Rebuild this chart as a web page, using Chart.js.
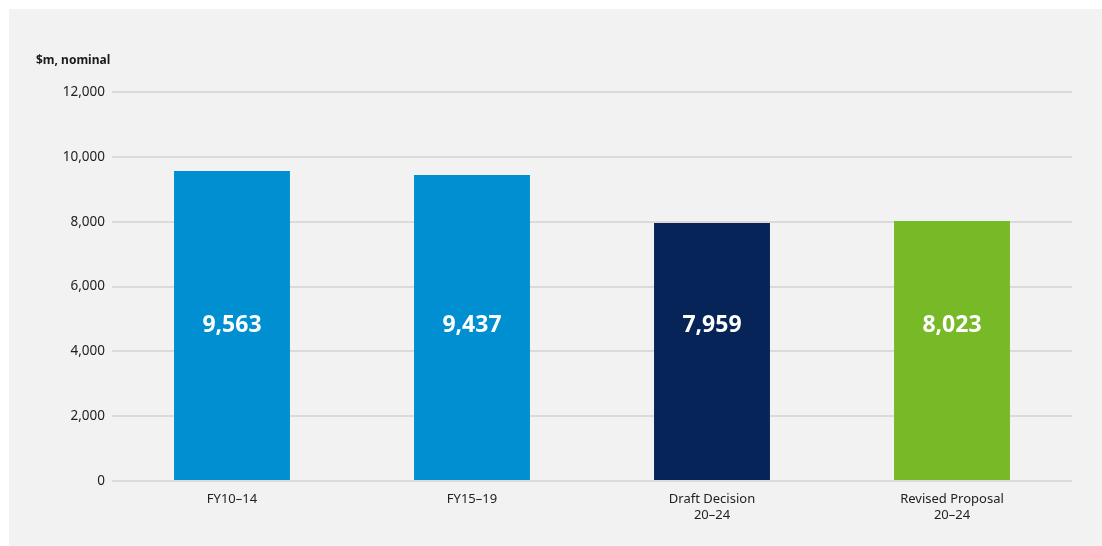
<!DOCTYPE html>
<html>
<head>
<meta charset="utf-8">
<script src="https://cdn.jsdelivr.net/npm/chart.js@4/dist/chart.umd.min.js"></script>
<style>
  html, body { margin: 0; padding: 0; background: #ffffff; }
  #wrap { width: 1102px; height: 546px; position: relative; }
</style>
</head>
<body>
<div id="wrap"><canvas id="capexChart" width="1102" height="546"></canvas></div>
<script>
// capex totals by period, $m nominal
const periods = [['FY10\u201314'], ['FY15\u201319'], ['Draft Decision', '20\u201324'], ['Revised Proposal', '20\u201324']];
const totals = [9563, 9437, 7959, 8023];
const barColours = ['#008fd0', '#008fd0', '#062457', '#78b928'];
const yTicks = [0, 2000, 4000, 6000, 8000, 10000, 12000];

const FONT = '"Noto Sans", sans-serif';

// grey panel behind the chart, axis unit caption and the value labels inside bars
const panelPlugin = {
    id: 'panel',
    beforeDraw(chart) {
        const c = chart.ctx;
        c.save();
        c.fillStyle = '#f2f2f2';
        c.fillRect(9, 9, chart.width - 9, chart.height - 9);
        c.fillStyle = '#1a1a1a';
        c.font = 'bold 12px ' + FONT;
        c.textBaseline = 'middle';
        c.fillText('$m, nominal', 36, 61);
        c.restore();
    },
    afterDatasetsDraw(chart) {
        const c = chart.ctx;
        const meta = chart.getDatasetMeta(0);
        const y = chart.scales.y.getPixelForValue(4800);
        c.save();
        c.fillStyle = '#ffffff';
        c.font = 'bold 23px ' + FONT;
        c.textAlign = 'center';
        c.textBaseline = 'middle';
        meta.data.forEach((bar, i) => {
            c.fillText(totals[i].toLocaleString('en-US'), bar.x, y);
        });
        c.restore();
    }
};

const ctx = document.getElementById('capexChart');
const capexChart = new Chart(ctx, {
    type: 'bar',
    data: {
        labels: periods,
        datasets: [{
            data: totals,
            backgroundColor: barColours,
            categoryPercentage: 1,
            barPercentage: 0.483
        }]
    },
    options: {
        responsive: false,
        animation: false,
        layout: { padding: { top: 92, right: 30, bottom: 0, left: 0 } },
        plugins: { legend: { display: false }, tooltip: { enabled: false } },
        scales: {
            x: {
                grid: { display: false },
                border: { display: false },
                ticks: { color: '#222222', font: { family: FONT, size: 13, lineHeight: 1.25 }, padding: 2, maxRotation: 0 },
                afterFit(scale) { scale.height = 65; }
            },
            y: {
                min: 0,
                max: 12000,
                afterBuildTicks(scale) { scale.ticks = yTicks.map(v => ({ value: v })); },
                grid: { color: '#dadada', lineWidth: 2, drawTicks: false },
                border: { display: false },
                ticks: {
                    color: '#222222',
                    font: { family: FONT, size: 13.5 },
                    padding: 7,
                    callback: v => v.toLocaleString('en-US')
                },
                afterFit(scale) { scale.width = 112; }
            }
        }
    },
    plugins: [panelPlugin]
});
</script>
</body>
</html>
